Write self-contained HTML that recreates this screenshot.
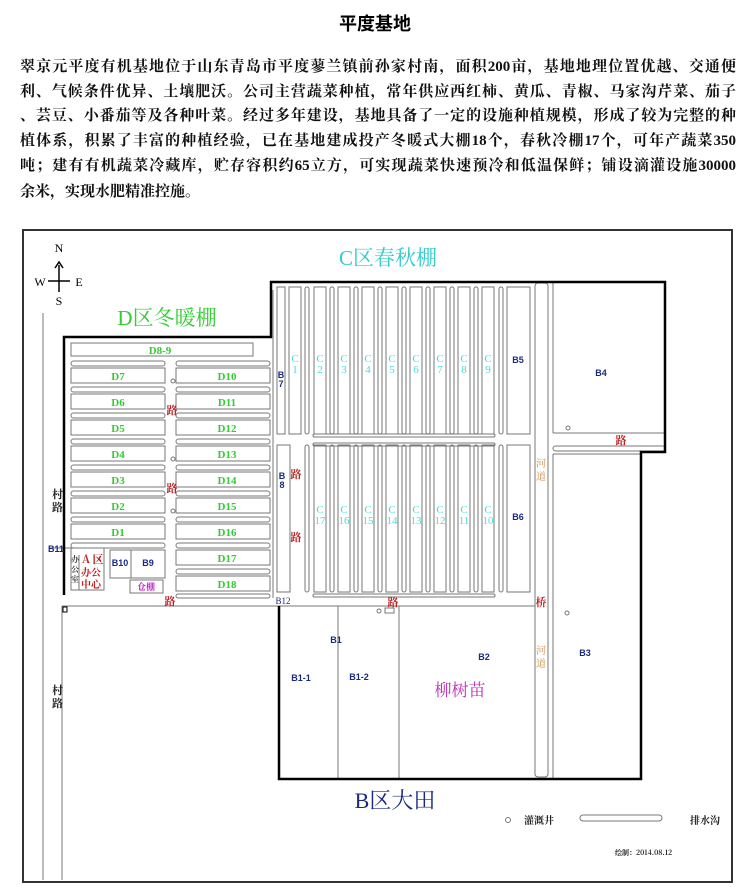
<!DOCTYPE html>
<html><head><meta charset="utf-8"><style>
body{margin:0;background:#fff;width:750px;height:887px;overflow:hidden;font-family:"Liberation Serif","Noto Serif CJK SC",serif}
h1{position:absolute;top:10px;left:0;width:750px;text-align:center;margin:0;font:bold 18px "Liberation Sans","Noto Sans CJK SC",sans-serif;color:#000}
.p{position:absolute;left:20px;width:716px;font-size:15px;color:#111;font-weight:bold;text-align:justify;text-align-last:justify;white-space:nowrap;line-height:20px;font-family:"Liberation Serif","Noto Serif CJK SC",serif}
svg{position:absolute;left:0;top:0}
</style></head><body>
<h1>平度基地</h1>
<div class="p" style="top:57px">翠京元平度有机基地位于山东青岛市平度蓼兰镇前孙家村南，面积200亩，基地地理位置优越、交通便</div>
<div class="p" style="top:82px">利、气候条件优异、土壤肥沃。公司主营蔬菜种植，常年供应西红柿、黄瓜、青椒、马家沟芹菜、茄子</div>
<div class="p" style="top:106px">、芸豆、小番茄等及各种叶菜。经过多年建设，基地具备了一定的设施种植规模，形成了较为完整的种</div>
<div class="p" style="top:131px">植体系，积累了丰富的种植经验，已在基地建成投产冬暖式大棚18个，春秋冷棚17个，可年产蔬菜350</div>
<div class="p" style="top:156px">吨；建有有机蔬菜冷藏库，贮存容积约65立方，可实现蔬菜快速预冷和低温保鲜；铺设滴灌设施30000</div>
<div class="p" style="top:182px;width:auto;text-align-last:auto">余米，实现水肥精准控施。</div>
<svg width="750" height="887" viewBox="0 0 750 887" font-family="Liberation Sans, Noto Sans CJK SC, sans-serif">
<g fill="none" stroke="#777" stroke-width="1">
<rect x="23" y="230" width="709" height="652" stroke="#333" stroke-width="2"/>
<line x1="43" y1="313" x2="43" y2="880"/>
<!-- D rows -->
<rect x="71" y="343" width="182" height="13"/>
<g id="dl">
<rect x="71" y="361" width="94" height="5" rx="2.5"/><rect x="71" y="368" width="94" height="15"/>
<rect x="71" y="387" width="94" height="5" rx="2.5"/><rect x="71" y="394" width="94" height="15"/>
<rect x="71" y="413" width="94" height="5" rx="2.5"/><rect x="71" y="420" width="94" height="15"/>
<rect x="71" y="439" width="94" height="5" rx="2.5"/><rect x="71" y="446" width="94" height="15"/>
<rect x="71" y="465" width="94" height="5" rx="2.5"/><rect x="71" y="472" width="94" height="15"/>
<rect x="71" y="491" width="94" height="5" rx="2.5"/><rect x="71" y="498" width="94" height="15"/>
<rect x="71" y="517" width="94" height="5" rx="2.5"/><rect x="71" y="524" width="94" height="15"/>
<rect x="71" y="543" width="94" height="5" rx="2.5"/>
</g>
<g transform="translate(105,0)">
<rect x="71" y="361" width="94" height="5" rx="2.5"/><rect x="71" y="368" width="94" height="15"/>
<rect x="71" y="387" width="94" height="5" rx="2.5"/><rect x="71" y="394" width="94" height="15"/>
<rect x="71" y="413" width="94" height="5" rx="2.5"/><rect x="71" y="420" width="94" height="15"/>
<rect x="71" y="439" width="94" height="5" rx="2.5"/><rect x="71" y="446" width="94" height="15"/>
<rect x="71" y="465" width="94" height="5" rx="2.5"/><rect x="71" y="472" width="94" height="15"/>
<rect x="71" y="491" width="94" height="5" rx="2.5"/><rect x="71" y="498" width="94" height="15"/>
<rect x="71" y="517" width="94" height="5" rx="2.5"/><rect x="71" y="524" width="94" height="15"/>
<rect x="71" y="543" width="94" height="5" rx="2.5"/><rect x="71" y="550" width="94" height="15"/>
<rect x="71" y="569" width="94" height="5" rx="2.5"/><rect x="71" y="576" width="94" height="15"/>
<rect x="71" y="594" width="94" height="4" rx="2"/>
</g>
<circle cx="173" cy="381" r="2"/><circle cx="173" cy="459" r="2"/><circle cx="173" cy="511" r="2"/>
<!-- office -->
<line x1="50" y1="548" x2="71" y2="548"/>
<rect x="71" y="548" width="33" height="42"/><line x1="79" y1="555" x2="79" y2="590"/>
<rect x="110" y="550" width="55" height="28"/><line x1="131" y1="550" x2="131" y2="578"/>
<rect x="130" y="580" width="33" height="13"/>
<!-- C area -->
<line x1="273" y1="290" x2="273" y2="598"/>
<rect x="277" y="287" width="8" height="147"/>
<rect x="289" y="287" width="12" height="147"/><rect x="305" y="287" width="4" height="147" rx="2"/>
<rect x="314" y="287" width="12" height="147"/><rect x="330" y="287" width="4" height="147" rx="2"/>
<rect x="338" y="287" width="12" height="147"/><rect x="354" y="287" width="4" height="147" rx="2"/>
<rect x="362" y="287" width="12" height="147"/><rect x="378" y="287" width="4" height="147" rx="2"/>
<rect x="386" y="287" width="12" height="147"/><rect x="402" y="287" width="4" height="147" rx="2"/>
<rect x="410" y="287" width="12" height="147"/><rect x="426" y="287" width="4" height="147" rx="2"/>
<rect x="434" y="287" width="12" height="147"/><rect x="450" y="287" width="4" height="147" rx="2"/>
<rect x="458" y="287" width="12" height="147"/><rect x="474" y="287" width="4" height="147" rx="2"/>
<rect x="482" y="287" width="12" height="147"/><rect x="499" y="287" width="4" height="147" rx="2"/>
<rect x="507" y="287" width="23" height="147"/>
<rect x="313" y="434" width="182" height="3" rx="1.5"/><rect x="313" y="443" width="182" height="3" rx="1.5"/>
<rect x="277" y="445" width="13" height="147"/><rect x="305" y="445" width="4" height="147" rx="2"/>
<rect x="314" y="445" width="12" height="147"/><rect x="330" y="445" width="4" height="147" rx="2"/>
<rect x="338" y="445" width="12" height="147"/><rect x="354" y="445" width="4" height="147" rx="2"/>
<rect x="362" y="445" width="12" height="147"/><rect x="378" y="445" width="4" height="147" rx="2"/>
<rect x="386" y="445" width="12" height="147"/><rect x="402" y="445" width="4" height="147" rx="2"/>
<rect x="410" y="445" width="12" height="147"/><rect x="426" y="445" width="4" height="147" rx="2"/>
<rect x="434" y="445" width="12" height="147"/><rect x="450" y="445" width="4" height="147" rx="2"/>
<rect x="458" y="445" width="12" height="147"/><rect x="474" y="445" width="4" height="147" rx="2"/>
<rect x="482" y="445" width="12" height="147"/><rect x="499" y="445" width="4" height="147" rx="2"/>
<rect x="507" y="445" width="23" height="147"/>
<rect x="313" y="594" width="182" height="3" rx="1.5"/>
<rect x="535" y="283" width="13" height="494" rx="3"/>
<line x1="553" y1="283" x2="553" y2="433"/><line x1="553" y1="433" x2="664" y2="433"/>
<rect x="553" y="446" width="112" height="5" rx="2.5"/>
<line x1="553" y1="454" x2="553" y2="779"/><line x1="553" y1="454" x2="641" y2="454"/>
<circle cx="568" cy="428" r="2"/><circle cx="567" cy="613" r="2"/>
<!-- B area -->
<line x1="62" y1="606" x2="535" y2="606"/>
<line x1="62" y1="606" x2="62" y2="880"/>
<rect x="63" y="607" width="4" height="5" stroke="#000"/>
<line x1="338" y1="606" x2="338" y2="779"/><line x1="399" y1="606" x2="399" y2="779"/>
<circle cx="379" cy="611" r="2"/><rect x="385" y="608" width="9" height="5"/>
<circle cx="508" cy="820" r="2.5"/><rect x="580" y="815" width="82" height="6" rx="3"/>
</g>
<path d="M64,595 L64,337 L271,337 L271,282 L665,282 L665,452 L641,452 L641,779 L279,779 L279,606" fill="none" stroke="#000" stroke-width="2.5"/>
<!-- compass -->
<g stroke="#000" stroke-width="1.5" fill="none"><line x1="59" y1="265" x2="59" y2="292"/><line x1="48" y1="281" x2="70" y2="281"/><path d="M55,268 L59,262 L63,268"/></g>
<g font-family="Liberation Serif, serif" font-size="12" fill="#000" text-anchor="middle">
<text x="59" y="252">N</text><text x="59" y="305">S</text><text x="40" y="286">W</text><text x="79" y="286">E</text></g>
<g font-family="Liberation Serif, Noto Serif CJK SC, serif" text-anchor="middle">
<text x="167" y="325" font-size="21" fill="#3c3">D区冬暖棚</text>
<text x="388" y="265" font-size="21" fill="#3cc">C区春秋棚</text>
<text x="395" y="808" font-size="22" fill="#1a2a80">B区大田</text>
</g>
<g font-family="Liberation Serif, serif" font-size="11" font-weight="bold" fill="#3c3" text-anchor="middle">
<text x="160" y="354">D8-9</text>
<text x="118" y="380">D7</text><text x="118" y="406">D6</text><text x="118" y="432">D5</text><text x="118" y="458">D4</text><text x="118" y="484">D3</text><text x="118" y="510">D2</text><text x="118" y="536">D1</text>
<text x="227" y="380">D10</text><text x="227" y="406">D11</text><text x="227" y="432">D12</text><text x="227" y="458">D13</text><text x="227" y="484">D14</text><text x="227" y="510">D15</text><text x="227" y="536">D16</text><text x="227" y="562">D17</text><text x="227" y="588">D18</text>
</g>
<g font-family="Liberation Serif, serif" font-size="11" fill="#4dd" text-anchor="middle">
<text x="295" y="362">C</text><text x="295" y="373">1</text>
<text x="320" y="362">C</text><text x="320" y="373">2</text>
<text x="344" y="362">C</text><text x="344" y="373">3</text>
<text x="368" y="362">C</text><text x="368" y="373">4</text>
<text x="392" y="362">C</text><text x="392" y="373">5</text>
<text x="416" y="362">C</text><text x="416" y="373">6</text>
<text x="440" y="362">C</text><text x="440" y="373">7</text>
<text x="464" y="362">C</text><text x="464" y="373">8</text>
<text x="488" y="362">C</text><text x="488" y="373">9</text>
<text x="320" y="513">C</text><text x="320" y="524">17</text>
<text x="344" y="513">C</text><text x="344" y="524">16</text>
<text x="368" y="513">C</text><text x="368" y="524">15</text>
<text x="392" y="513">C</text><text x="392" y="524">14</text>
<text x="416" y="513">C</text><text x="416" y="524">13</text>
<text x="440" y="513">C</text><text x="440" y="524">12</text>
<text x="464" y="513">C</text><text x="464" y="524">11</text>
<text x="488" y="513">C</text><text x="488" y="524">10</text>
</g>
<g font-size="9" font-weight="bold" fill="#1a2a80" text-anchor="middle">
<text x="281" y="378">B</text><text x="281" y="387">7</text>
<text x="282" y="479">B</text><text x="282" y="488">8</text>
<text x="518" y="363">B5</text><text x="518" y="520">B6</text><text x="601" y="376">B4</text>
<text x="56" y="552">B11</text><text x="120" y="566">B10</text><text x="148" y="566">B9</text>
<text x="283" y="604" font-weight="normal" font-family="Liberation Serif, serif">B12</text>
<text x="336" y="643">B1</text><text x="301" y="681">B1-1</text><text x="359" y="680">B1-2</text>
<text x="484" y="660">B2</text><text x="585" y="656">B3</text>
</g>
<g font-family="Noto Serif CJK SC, serif" font-weight="bold">
<g fill="#b22" font-size="11" text-anchor="middle">
<text x="172" y="414">路</text><text x="172" y="492">路</text><text x="170" y="605">路</text>
<text x="296" y="478">路</text><text x="296" y="541">路</text><text x="393" y="606">路</text>
<text x="621" y="444">路</text><text x="541" y="606">桥</text>
<text x="86" y="563">A</text><text x="98" y="563">区</text>
</g>
<g fill="#b22" font-size="10"><text x="81" y="576">办公</text><text x="81" y="588">中心</text></g>
<g fill="#444" font-size="8"><text x="71" y="562">办</text><text x="71" y="572">公</text><text x="71" y="582">室</text></g>
<g fill="#d08a40" font-size="10" text-anchor="middle" font-weight="normal">
<text x="541" y="467">河</text><text x="541" y="480">道</text>
<text x="541" y="654">河</text><text x="541" y="667">道</text></g>
<text x="146" y="590" fill="#c020c0" font-size="9" text-anchor="middle">仓棚</text>
<text x="460" y="696" fill="#c030c0" font-size="17" text-anchor="middle" font-weight="normal">柳树苗</text>
<g fill="#222" font-size="11"><text x="52" y="498">村</text><text x="52" y="511">路</text><text x="52" y="694">村</text><text x="52" y="707">路</text></g>
<text x="524" y="824" font-size="10" fill="#222">灌溉井</text>
<text x="690" y="824" font-size="10" fill="#222">排水沟</text>
<text x="615" y="855" font-size="7" fill="#222">绘制：2014.08.12</text>
</g>
</svg>
</body></html>
